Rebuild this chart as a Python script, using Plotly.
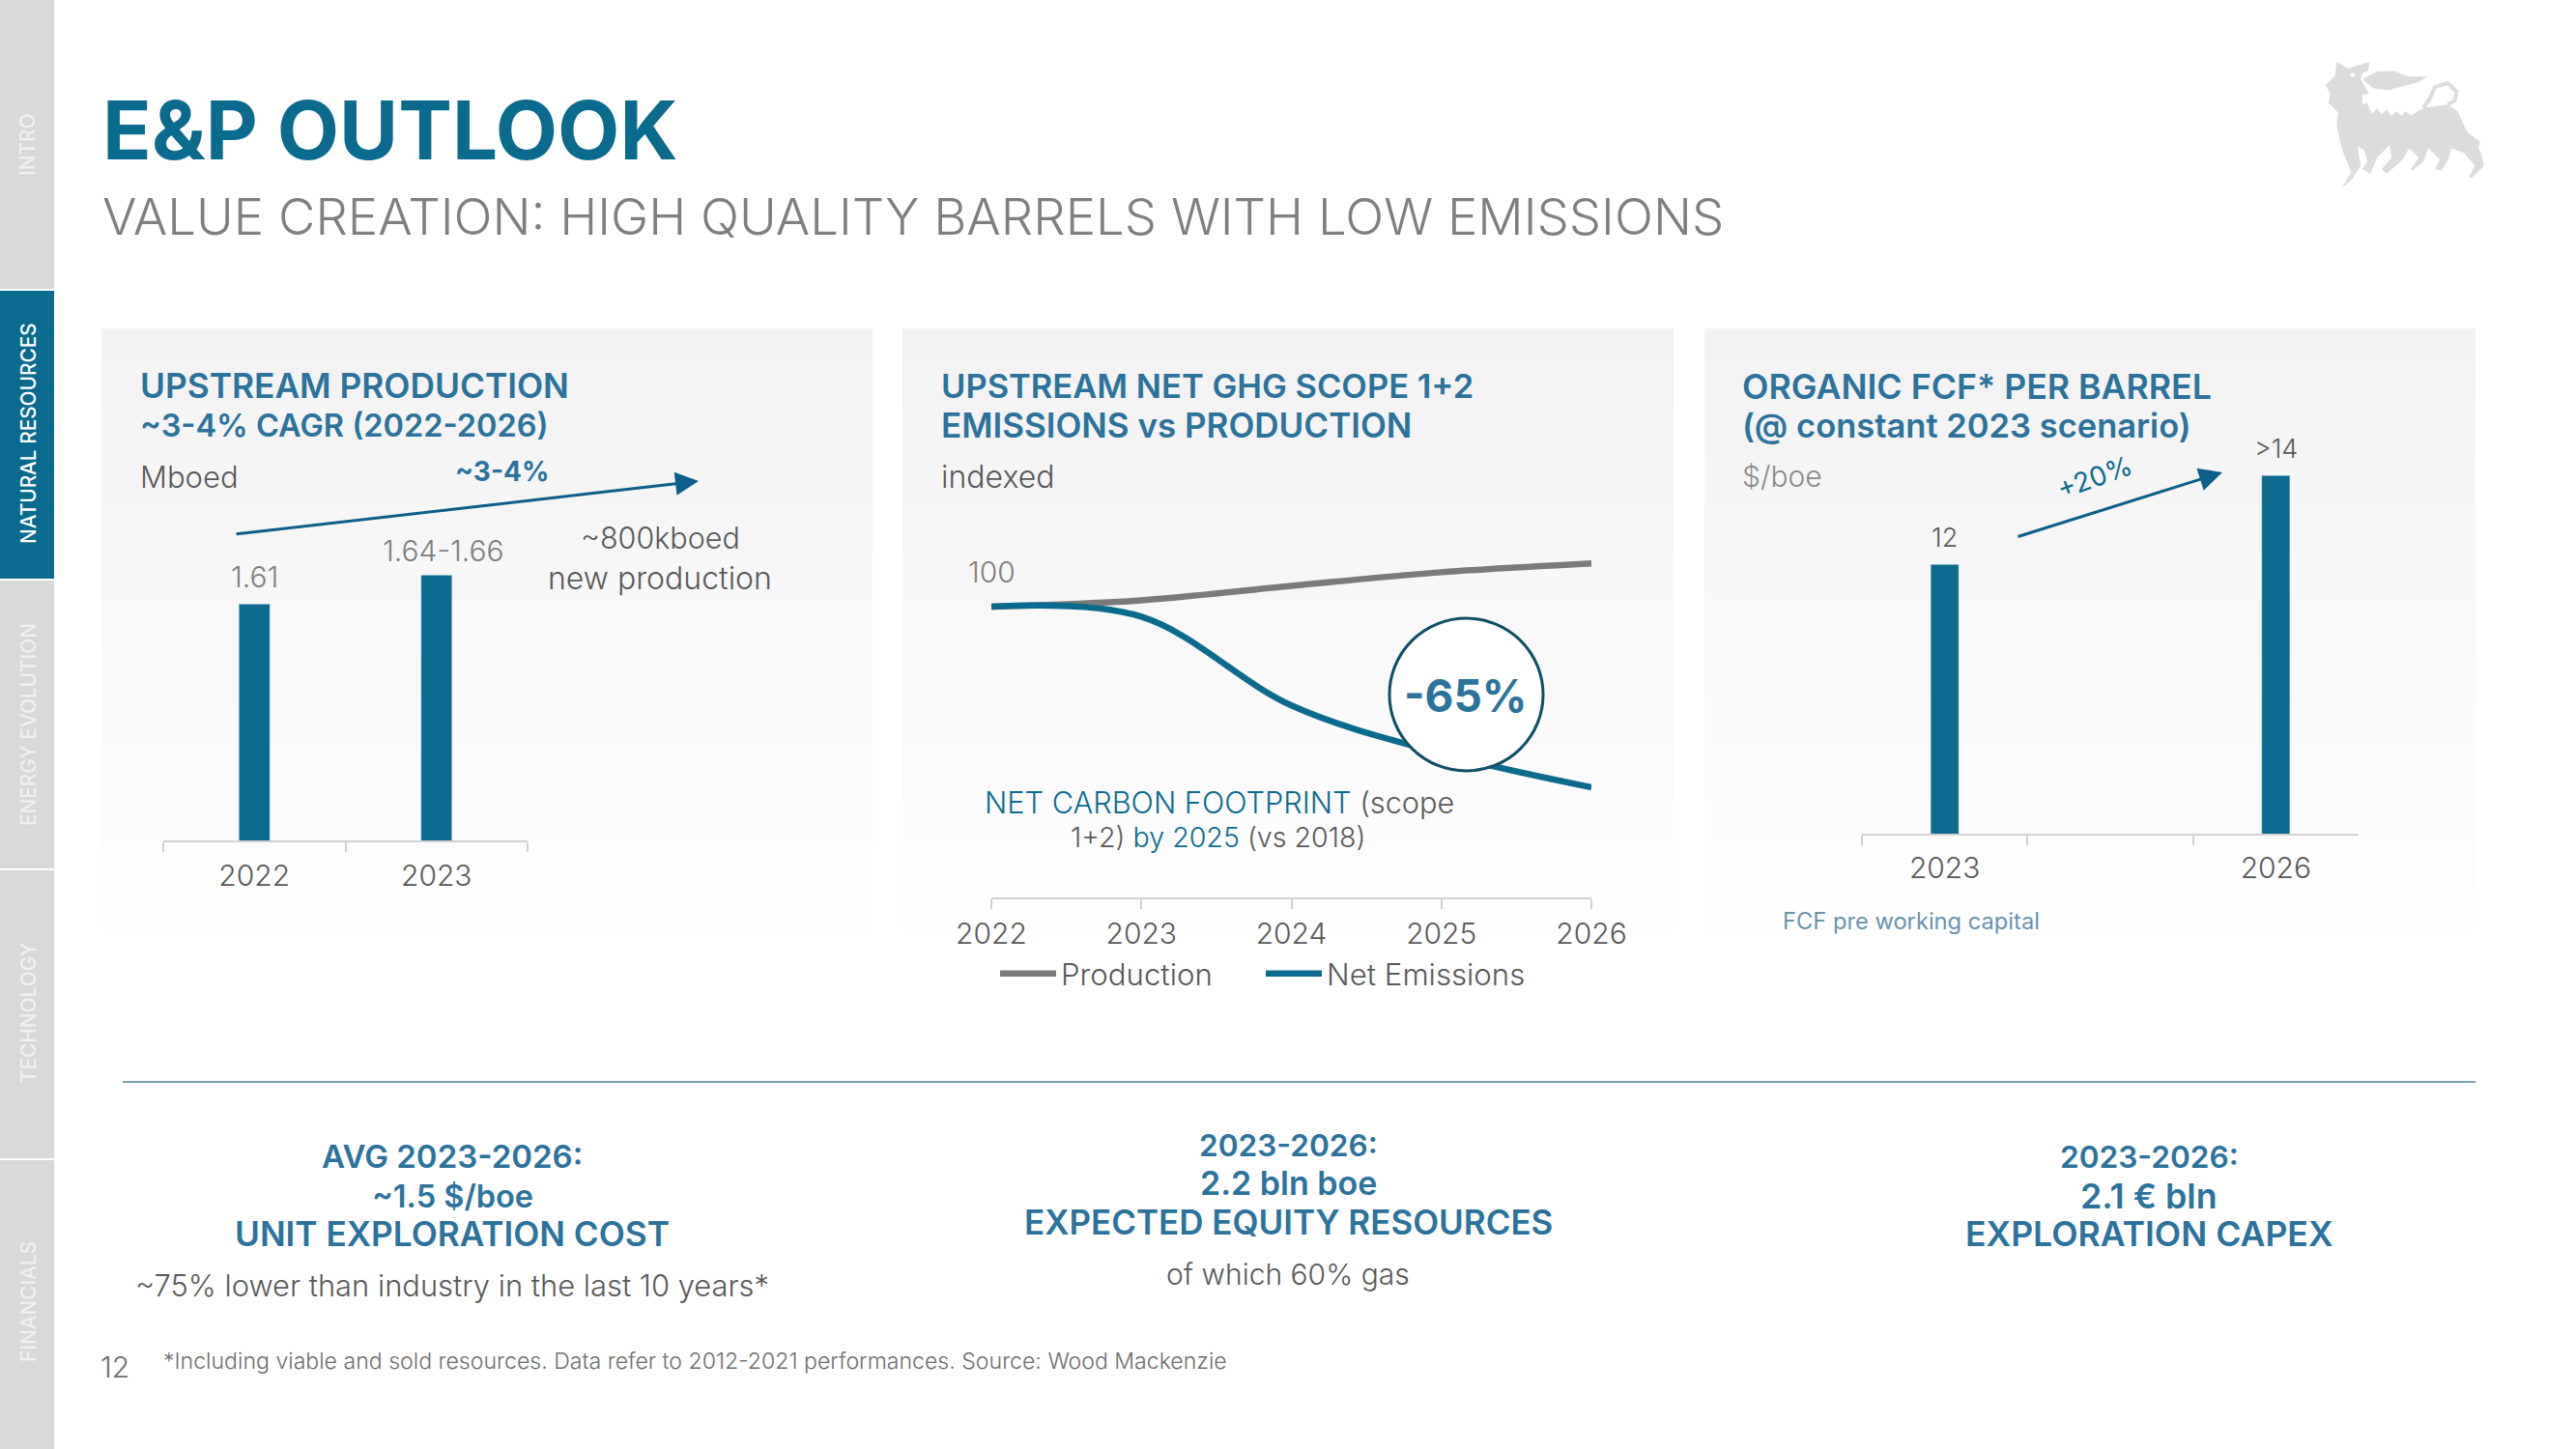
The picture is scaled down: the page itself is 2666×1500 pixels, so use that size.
import plotly.graph_objects as go

W, H = 2666, 1500
TEAL = "#0b6b8f"
BLUE = "#2b739c"
GREY = "#595959"
LIGHT = "#6e6e6e"
AX = "#d2d2d2"
FONT = "Inter"

# ---------- data ----------
prod_years = ["2022", "2023"]
prod_values = [1.61, 1.65]
prod_labels = ["1.61", "1.64-1.66"]

line_years = [2022, 2023, 2024, 2025, 2026]
production_index = [100, 102.3, 107.5, 112.4, 115.6]
emissions_index = [100, 96.4, 64.5, 47.2, 35]

fcf_years = ["2023", " ", "2026"]
fcf_values = [12, None, 14]
fcf_labels = ["12", "", ">14"]

tab_names = ["INTRO", "NATURAL RESOURCES", "ENERGY EVOLUTION", "TECHNOLOGY", "FINANCIALS"]
tab_centres = [150, 449, 750, 1049, 1348]


def px(x):
    return x / W


def py(y):
    return 1 - y / H


annotations = []


def T(x, y, text, size, color=GREY, weight=400, anchor="left", angle=0, family=FONT):
    annotations.append(dict(
        x=px(x), y=py(y), xref="paper", yref="paper", text=text, showarrow=False,
        xanchor=anchor, yanchor="middle", textangle=angle, borderpad=0,
        font=dict(family=family, size=size, color=color, weight=weight),
    ))


def arrow(x0, y0, x1, y1):
    annotations.append(dict(
        x=px(x1), y=py(y1), xref="paper", yref="paper", ax=x0 - x1, ay=y0 - y1,
        axref="pixel", ayref="pixel", text="", showarrow=True, arrowhead=2,
        arrowsize=1.6, arrowwidth=3, arrowcolor="#0b5f8a",
    ))


shapes = []


def rect(x0, y0, x1, y1, color):
    shapes.append(dict(type="rect", xref="paper", yref="paper", x0=px(x0), x1=px(x1),
                       y0=py(y0), y1=py(y1), fillcolor=color, line_width=0, layer="below"))


# side tabs
tab_edges = [(0, 299), (301, 599), (601, 899), (901, 1199), (1201, 1500)]
for i, ((a, b), name, c) in enumerate(zip(tab_edges, tab_names, tab_centres)):
    active = i == 1
    rect(0, a, 56, b, TEAL if active else "#d9d9d9")
    T(29, c, name, 20.8, "#ffffff" if active else "#f1f1f1", 500, "center", -90)

# panels with vertical fade
panels = [(105, 903), (934, 1732), (1764, 2562)]
STEP = 8
for y in range(340, 985, STEP):
    if y < 898:
        v = 242 + (y - 340) / 558 * 11
    else:
        v = 253 + (y - 898) / 87 * 2
    g = int(round(v))
    y2 = min(y + STEP, 985)
    path = "".join(
        f"M{px(a)},{py(y)} L{px(b)},{py(y)} L{px(b)},{py(y2)} L{px(a)},{py(y2)} Z "
        for a, b in panels)
    shapes.append(dict(type="path", xref="paper", yref="paper", path=path,
                       fillcolor=f"rgb({g},{g},{g})", line_width=0, layer="below"))

# divider
shapes.append(dict(type="line", xref="paper", yref="paper", x0=px(127), x1=px(2562),
                   y0=py(1120), y1=py(1120), line=dict(color="#7fa0b8", width=2), layer="below"))

# circle callout
shapes.append(dict(type="circle", xref="paper", yref="paper", x0=px(1438), x1=px(1597),
                   y0=py(640), y1=py(798), fillcolor="white",
                   line=dict(color="#0e4f66", width=3), layer="above"))


# logo
def logo_path(pts):
    return "M" + " L".join(f"{px(2380 + a / 3)},{py(40 + b / 3)}" for a, b in pts) + " Z"


body = [(115, 72), (150, 92), (218, 72), (212, 100), (195, 108), (190, 128), (215, 170), (195, 175),
        (195, 205), (210, 200), (225, 235), (240, 215), (255, 235), (270, 220), (285, 240), (300, 225),
        (315, 240), (330, 225), (345, 240), (362, 228), (385, 215), (460, 205), (490, 225), (520, 290),
        (560, 320), (555, 340), (565, 360), (572, 395), (535, 432), (525, 430), (545, 395), (510, 355),
        (470, 340), (465, 370), (440, 410), (420, 405), (435, 375), (400, 340), (385, 380), (350, 410),
        (345, 405), (370, 370), (340, 340), (320, 375), (270, 420), (255, 405), (285, 370), (280, 330),
        (240, 370), (220, 420), (195, 405), (210, 380), (200, 345), (180, 335), (185, 370), (190, 395),
        (160, 440), (130, 465), (160, 415), (130, 340), (115, 270), (120, 230), (90, 200), (95, 170),
        (80, 145), (110, 115)]
flame = [(195, 125), (240, 102), (290, 100), (340, 118), (395, 118), (370, 135), (330, 145), (280, 160),
         (230, 155)]
for pts in (body, flame):
    shapes.append(dict(type="path", xref="paper", yref="paper", path=logo_path(pts),
                       fillcolor="#dcdcdc", line_width=0, layer="below"))
shapes.append(dict(type="circle", xref="paper", yref="paper", x0=px(2380 + 158 / 3), x1=px(2380 + 172 / 3),
                   y0=py(40 + 106 / 3), y1=py(40 + 120 / 3), fillcolor="white", line_width=0, layer="below"))
tail = [(385, 215), (405, 185), (420, 150), (460, 138), (488, 165), (482, 192), (460, 205)]
shapes.append(dict(type="path", xref="paper", yref="paper",
                   path="M" + " L".join(f"{px(2380 + a / 3)},{py(40 + b / 3)}" for a, b in tail),
                   line=dict(color="#dcdcdc", width=4), layer="below"))

# header
T(105, 135, "E&amp;P OUTLOOK", 83.5, TEAL, 700)
T(105, 224, "VALUE CREATION: HIGH QUALITY BARRELS WITH LOW EMISSIONS", 52.7, "#7f7f7f", 300)

# panel 1 text
T(144, 400, "UPSTREAM PRODUCTION", 35.3, BLUE, 600)
T(144, 440, "~3-4% CAGR (2022-2026)", 32.5, BLUE, 600)
T(144, 493, "Mboed", 31, GREY, 300)
T(519, 488, "~3-4%", 28, BLUE, 700, "center")
arrow(243, 553, 723, 498)
T(683, 556, "~800kboed", 30.5, GREY, 300, "center")
T(683, 598, "new production", 32, GREY, 300, "center")

# panel 2 text
T(973, 400, "UPSTREAM NET GHG SCOPE 1+2", 34.5, BLUE, 600)
T(973, 440, "EMISSIONS vs PRODUCTION", 35, BLUE, 600)
T(973, 493, "indexed", 32, GREY, 300)
T(1517, 720, "-65%", 46, BLUE, 700, "center")
T(1262, 830, f'<span style="color:{TEAL}">NET CARBON FOOTPRINT</span> (scope', 30.7, GREY, 300, "center")
T(1260, 866, f'1+2) <span style="color:{TEAL}">by 2025</span> (vs 2018)', 28.6, GREY, 300, "center")

# panel 3 text
T(1802, 400, "ORGANIC FCF* PER BARREL", 35.7, BLUE, 600)
T(1802, 440, "(@ constant 2023 scenario)", 34.5, BLUE, 600)
T(1802, 493, "$/boe", 30, "#8a8a8a", 300)
arrow(2087, 556, 2300, 489)
T(2168, 494, "+20%", 28, TEAL, 400, "center", -20)
T(1844, 953, "FCF pre working capital", 23.7, "#6a93ad", 400)

# bottom columns
T(468, 1197, "AVG 2023-2026:", 33, BLUE, 600, "center")
T(468, 1238, "~1.5 $/boe", 32.5, BLUE, 600, "center")
T(468, 1277, "UNIT EXPLORATION COST", 35.2, BLUE, 600, "center")
T(468, 1330, "~75% lower than industry in the last 10 years*", 30.9, GREY, 300, "center")
T(1333, 1185, "2023-2026:", 31.6, BLUE, 600, "center")
T(1333, 1224, "2.2 bln boe", 34, BLUE, 600, "center")
T(1333, 1265, "EXPECTED EQUITY RESOURCES", 35, BLUE, 600, "center")
T(1333, 1319, "of which 60% gas", 30, GREY, 300, "center")
T(2224, 1197, "2023-2026:", 31.6, BLUE, 600, "center")
T(2224, 1238, "2.1 € bln", 35.8, BLUE, 600, "center")
T(2224, 1277, "EXPLORATION CAPEX", 35.6, BLUE, 600, "center")
T(119, 1415, "12", 30, LIGHT, 300, "center")
T(168, 1409, "*Including viable and sold resources. Data refer to 2012-2021 performances. Source: Wood Mackenzie",
  23.1, LIGHT, 300)

fig = go.Figure()
fig.add_bar(x=prod_years, y=prod_values, marker_color=TEAL, showlegend=False, xaxis="x", yaxis="y",
            hoverinfo="skip")
fig.add_scatter(x=line_years, y=production_index, mode="lines", name="Production",
                line=dict(color="#7a7a7a", width=6.5, shape="spline"), xaxis="x2", yaxis="y2")
fig.add_scatter(x=line_years, y=emissions_index, mode="lines", name="Net Emissions",
                line=dict(color=TEAL, width=6.5, shape="spline"), xaxis="x2", yaxis="y2")
fig.add_bar(x=fcf_years, y=fcf_values, marker_color=TEAL, showlegend=False, xaxis="x3", yaxis="y3",
            hoverinfo="skip")

# labels tied to the data; a category axis takes a numeric position as the category index
for i, (val, lab) in enumerate(zip(prod_values, prod_labels)):
    annotations.append(dict(x=i, y=val, xref="x", yref="y", text=lab, showarrow=False, yanchor="bottom",
                            yshift=8 if i == 0 else 5, xshift=0 if i == 0 else 7,
                            font=dict(family=FONT, size=30, color="#7f7f7f", weight=300)))
for i, (val, lab) in enumerate(zip(fcf_values, fcf_labels)):
    if val is not None:
        annotations.append(dict(x=i, y=val, xref="x3", yref="y3", text=lab, showarrow=False, yanchor="bottom",
                                yshift=9, font=dict(family=FONT, size=27, color=GREY, weight=300)))
annotations.append(dict(x=line_years[0], y=production_index[0], xref="x2", yref="y2", text="100", showarrow=False,
                        yshift=36, font=dict(family=FONT, size=30, color="#7f7f7f", weight=300)))


def xax(l, r, **kw):
    return dict(domain=[px(l), px(r)], showline=True, linecolor=AX, linewidth=2, ticks="outside",
                tickcolor=AX, tickwidth=2, ticklen=10, showgrid=False, zeroline=False, tickangle=0,
                tickfont=dict(family=FONT, size=30, color=GREY, weight=300), **kw)


fig.update_layout(
    width=W, height=H, autosize=False, margin=dict(l=0, r=0, t=0, b=0, autoexpand=False),
    paper_bgcolor="white", plot_bgcolor="rgba(0,0,0,0)", bargap=0.83, font=dict(family=FONT),
    xaxis=xax(169, 546, type="category", tickson="boundaries", anchor="y", ticklabelstandoff=9,
              categoryorder="array", categoryarray=prod_years, range=[-0.5, 1.5]),
    yaxis=dict(domain=[py(870), py(500)], range=[1.284, 1.777], visible=False, anchor="x"),
    xaxis2=xax(1026, 1647, range=[2022, 2026], tickvals=line_years, anchor="y2", ticklabelstandoff=0),
    yaxis2=dict(domain=[py(929), py(540)], range=[-4.6, 130.6], visible=False, anchor="x2"),
    xaxis3=xax(1927, 2441, type="category", tickson="boundaries", anchor="y3", ticklabelstandoff=8,
               categoryorder="array", categoryarray=fcf_years, range=[-0.5, 2.5]),
    yaxis3=dict(domain=[py(863), py(400)], range=[5.95, 16], visible=False, anchor="x3"),
    legend=dict(orientation="h", x=px(1030), y=py(1008), xanchor="left", yanchor="middle",
                bgcolor="rgba(0,0,0,0)", itemwidth=58, traceorder="normal", entrywidth=202,
                entrywidthmode="pixels",
                font=dict(family=FONT, size=31.2, color=GREY, weight=300)),
    shapes=shapes, annotations=annotations,
)
fig.write_html("out.html", config={"displayModeBar": False},
               post_script="document.body.style.margin='0';")
